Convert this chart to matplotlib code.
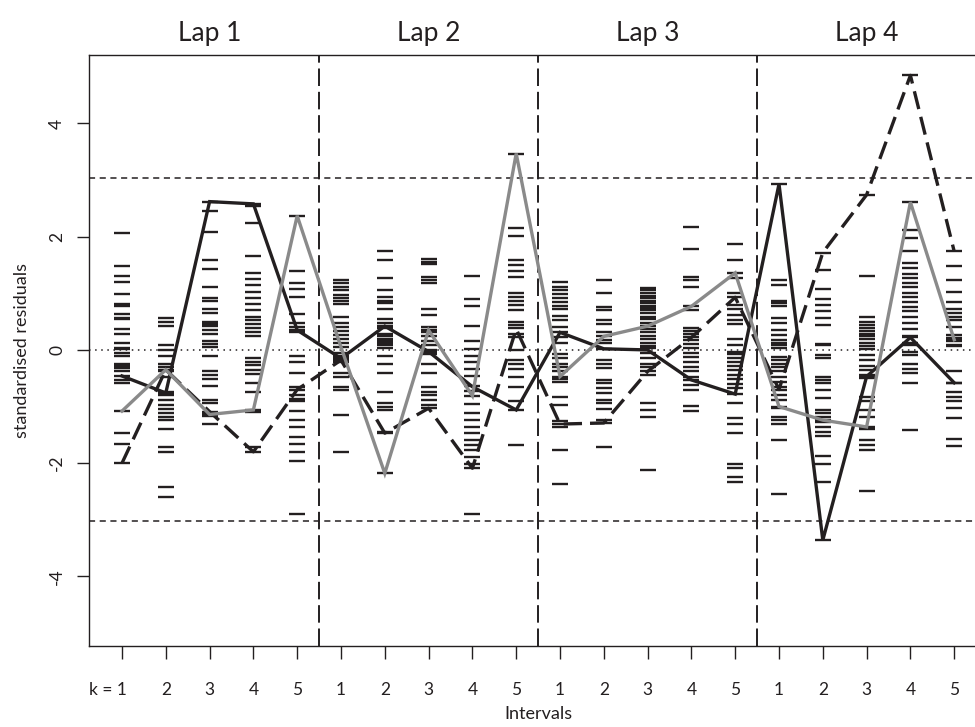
import matplotlib
matplotlib.use("Agg")
import matplotlib.pyplot as plt
import matplotlib.transforms as mtransforms

plt.rcParams['font.family'] = ['Lato', 'DejaVu Sans']

# ---- data ----
positions = list(range(1, 21))
tick_labels = ["k = 1", "2", "3", "4", "5"] + ["1", "2", "3", "4", "5"] * 3
lap_titles = ["Lap 1", "Lap 2", "Lap 3", "Lap 4"]
lap_centers = [3, 8, 13, 18]
lap_dividers = [5.5, 10.5, 15.5]
threshold = 3.03

col1 = [2.06, 1.49, 1.31, 1.20, 0.99, 0.81, 0.78, 0.64, 0.57, 0.54, 0.37, 0.28, 0.13, 0.04, 0.01, -0.06, -0.11, -0.25, -0.29, -0.32, -0.38, -0.46, -0.53, -0.59, -1.08, -1.46, -1.67, -2.0]
col2 = [0.57, 0.50, 0.42, 0.08, 0.0, -0.11, -0.24, -0.31, -0.35, -0.38, -0.47, -0.74, -0.77, -0.80, -0.88, -0.97, -1.05, -1.12, -1.18, -1.23, -1.39, -1.72, -1.80, -2.42, -2.60]
col3 = [2.62, 2.45, 2.09, 1.59, 1.43, 1.12, 0.92, 0.87, 0.73, 0.65, 0.49, 0.46, 0.42, 0.35, 0.29, 0.15, 0.11, 0.06, -0.11, -0.38, -0.44, -0.52, -0.64, -0.88, -0.94, -1.09, -1.14, -1.17, -1.30]
col4 = [2.58, 2.54, 2.24, 1.66, 1.36, 1.25, 1.15, 1.03, 0.92, 0.81, 0.71, 0.59, 0.53, 0.46, 0.38, 0.32, 0.24, -0.15, -0.21, -0.27, -0.35, -0.42, -0.58, -0.74, -1.06, -1.09, -1.71, -1.80]
col5 = [2.37, 1.39, 1.19, 1.07, 0.93, 0.64, 0.47, 0.41, 0.35, 0.31, -0.11, -0.22, -0.41, -0.65, -0.70, -0.80, -0.86, -0.91, -1.08, -1.23, -1.37, -1.53, -1.66, -1.80, -1.96, -2.90]
col6 = [1.24, 1.18, 1.11, 1.05, 0.97, 0.92, 0.87, 0.81, 0.59, 0.47, 0.41, 0.34, 0.27, 0.19, 0.12, 0.05, -0.05, -0.11, -0.15, -0.18, -0.21, -0.41, -0.47, -0.65, -0.71, -1.15, -1.80]
col7 = [1.75, 1.58, 1.27, 1.05, 0.93, 0.87, 0.83, 0.72, 0.54, 0.47, 0.42, 0.38, 0.29, 0.24, 0.19, 0.15, 0.12, 0.09, 0.03, -0.11, -0.24, -0.41, -0.74, -0.94, -1.0, -1.06, -1.45, -1.47, -2.18]
col8 = [1.61, 1.56, 1.52, 1.29, 1.24, 1.19, 0.72, 0.62, 0.40, 0.35, 0.31, 0.24, 0.15, 0.09, 0.0, -0.03, -0.07, -0.24, -0.40, -0.65, -0.74, -0.80, -0.88, -0.97, -1.03]
col9 = [1.31, 0.90, 0.78, 0.42, 0.16, 0.01, -0.11, -0.22, -0.34, -0.46, -0.64, -0.72, -0.81, -0.96, -1.12, -1.24, -1.36, -1.47, -1.59, -1.68, -1.77, -1.89, -2.01, -2.09, -2.90]
col10 = [3.47, 2.15, 2.02, 1.58, 1.50, 1.39, 1.29, 1.01, 0.94, 0.87, 0.80, 0.71, 0.50, 0.44, 0.38, 0.29, 0.22, 0.0, -0.18, -0.24, -0.34, -0.47, -0.65, -0.91, -1.06, -1.68]
col11 = [1.20, 1.11, 1.05, 0.99, 0.92, 0.84, 0.78, 0.72, 0.60, 0.52, 0.41, 0.31, 0.22, 0.12, -0.07, -0.15, -0.24, -0.31, -0.38, -0.47, -0.52, -0.56, -0.83, -0.97, -1.25, -1.31, -1.37, -1.76, -2.37]
col12 = [1.24, 1.00, 0.76, 0.71, 0.53, 0.46, 0.31, 0.24, 0.18, 0.12, 0.02, -0.18, -0.24, -0.32, -0.53, -0.59, -0.68, -0.76, -0.88, -0.93, -1.05, -1.24, -1.29, -1.71]
col13 = [1.09, 1.05, 1.00, 0.96, 0.91, 0.87, 0.83, 0.78, 0.74, 0.70, 0.65, 0.59, 0.54, 0.48, 0.42, 0.37, 0.31, 0.25, 0.19, 0.13, 0.07, 0.03, -0.06, -0.15, -0.24, -0.30, -0.38, -0.44, -0.94, -1.06, -1.19, -2.12]
col14 = [2.17, 1.78, 1.29, 1.23, 1.11, 0.77, 0.70, 0.38, 0.34, 0.29, 0.22, 0.18, 0.11, 0.03, -0.05, -0.12, -0.21, -0.30, -0.38, -0.47, -0.53, -0.62, -0.71, -0.99, -1.07]
col15 = [1.87, 1.58, 1.36, 1.27, 1.01, 0.93, 0.80, 0.72, 0.62, 0.53, 0.46, 0.19, 0.09, -0.03, -0.07, -0.15, -0.21, -0.28, -0.35, -0.44, -0.52, -0.60, -0.68, -0.78, -0.93, -1.21, -1.31, -1.46, -2.01, -2.09, -2.24, -2.33]
col16 = [2.93, 1.24, 1.15, 0.87, 0.83, 0.78, 0.56, 0.47, 0.35, 0.27, 0.18, 0.13, 0.08, 0.03, -0.12, -0.18, -0.24, -0.30, -0.38, -0.47, -0.56, -0.65, -0.70, -0.80, -0.88, -1.0, -1.03, -1.18, -1.24, -1.30, -1.59, -2.55]
col17 = [1.72, 1.42, 1.07, 0.90, 0.80, 0.68, 0.56, 0.44, 0.11, 0.09, -0.09, -0.15, -0.47, -0.53, -0.59, -0.71, -0.85, -1.06, -1.12, -1.18, -1.24, -1.27, -1.36, -1.45, -1.52, -1.88, -2.02, -2.33, -3.36]
col18 = [2.74, 1.30, 0.59, 0.50, 0.44, 0.38, 0.34, 0.29, 0.25, 0.19, 0.13, 0.07, 0.01, -0.09, -0.18, -0.28, -0.35, -0.44, -0.47, -0.50, -0.83, -0.91, -1.06, -1.18, -1.36, -1.39, -1.59, -1.68, -1.77, -2.49]
col19 = [4.85, 2.61, 2.12, 1.98, 1.74, 1.53, 1.45, 1.35, 1.27, 1.18, 1.11, 1.01, 0.93, 0.84, 0.76, 0.68, 0.59, 0.48, 0.37, 0.24, 0.22, 0.12, 0.09, -0.03, -0.09, -0.24, -0.34, -0.40, -0.58, -1.42]
col20 = [1.74, 1.49, 1.24, 1.03, 0.84, 0.72, 0.66, 0.59, 0.52, 0.41, 0.27, 0.21, 0.18, 0.15, 0.09, 0.07, -0.38, -0.58, -0.59, -0.74, -0.83, -0.91, -1.03, -1.21, -1.58, -1.70]

residual_columns = [col1, col2, col3, col4, col5, col6, col7, col8, col9, col10,
                    col11, col12, col13, col14, col15, col16, col17, col18, col19, col20]

solid_series = [-0.46, -0.76, 2.62, 2.58, 0.35, -0.15, 0.42, -0.03, -0.65, -1.06,
                0.31, 0.02, 0.0, -0.53, -0.78, 2.93, -3.36, -0.47, 0.22, -0.58]
dashed_series = [-2.0, -0.35, -1.09, -1.80, -0.70, -0.18, -1.47, -1.03, -2.09, 0.37,
                 -1.31, -1.29, -0.38, 0.22, 0.93, -0.70, 1.72, 2.74, 4.85, 1.74]
gray_series = [-1.08, -0.35, -1.14, -1.06, 2.37, 0.05, -2.18, 0.35, -0.81, 3.47,
               -0.47, 0.24, 0.42, 0.77, 1.36, -1.0, -1.24, -1.36, 2.61, 0.18]

# ---- plot ----
INK = "#231f20"
GRAY = "#8a8a8a"
W, H = 975, 727
fig = plt.figure(figsize=(W / 100, H / 100), dpi=100)

ax_left, ax_right, ax_top, ax_bottom = 88.7, 987.5, 55, 646
ax = fig.add_axes([ax_left / W, 1 - ax_bottom / H, (ax_right - ax_left) / W, (ax_bottom - ax_top) / H])
ax.set_xlim(0.24, 20.76)
ax.set_ylim(-5.23, 5.21)

for p, col in zip(positions, residual_columns):
    ax.plot([p] * len(col), col, linestyle="none", marker="_", ms=12.2, mew=1.7,
            color=INK, zorder=2)

ax.axhline(0, color=INK, lw=1.1, linestyle=(0, (1, 3)), zorder=1)
for s in (threshold, -threshold):
    ax.axhline(s, color=INK, lw=1.1, linestyle=(0, (4, 3)), zorder=1)
for d in lap_dividers:
    ax.axvline(d, color=INK, lw=1.4, linestyle=(0, (9, 3)), zorder=1)

ax.plot(positions, solid_series, color=INK, lw=2.4, zorder=3, solid_joinstyle="miter")
ax.plot(positions, dashed_series, color=INK, lw=2.4, zorder=3,
        linestyle=(0, (5.5, 2.4)))
ax.plot(positions, gray_series, color=GRAY, lw=2.4, zorder=4, solid_joinstyle="miter")

for t, c in zip(lap_titles, lap_centers):
    ax.text(c, 1.0 + 21 / (ax_bottom - ax_top), t, transform=ax.get_xaxis_transform(),
            ha="center", va="center", fontsize=19, color=INK)

ax.set_xticks(positions)
ax.set_xticklabels(tick_labels)
ax.set_yticks([-4, -2, 0, 2, 4])
ax.set_yticklabels(["-4", "-2", "0", "2", "4"], rotation=90, va="center")
ax.tick_params(axis="both", direction="out", length=9, width=1.0, colors=INK,
               labelsize=12.5)
ax.tick_params(axis="x", pad=17)
ax.tick_params(axis="y", pad=8)
for sp in ax.spines.values():
    sp.set_color(INK)
    sp.set_linewidth(1.0)

# put the "1" of "k = 1" under its tick
first = ax.get_xticklabels()[0]
first.set_horizontalalignment("right")
first.set_transform(first.get_transform() + mtransforms.ScaledTranslation(5 / 100, 0, fig.dpi_scale_trans))

ax.set_ylabel("standardised residuals", fontsize=13, color=INK, labelpad=14)
fig.text(ax.get_position().x0 + (ax.transData.transform((10.5, 0))[0] - ax.transData.transform((0.24, 0))[0]) / W,
         1 - 714 / H, "Intervals", ha="center", va="center", fontsize=13, color=INK)

fig.savefig("out.png", dpi=100)
